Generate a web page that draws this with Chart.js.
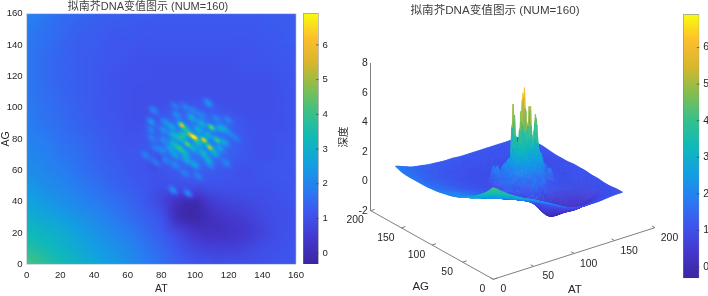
<!DOCTYPE html>
<html>
<head>
<meta charset="utf-8">
<script src="https://cdn.jsdelivr.net/npm/chart.js@4"></script>
<style>
  html, body { margin: 0; padding: 0; background: #fff; overflow: hidden; }
  canvas { position: absolute; top: 0; filter: blur(0.4px); }
</style>
</head>
<body>
<canvas id="heat" width="324" height="296" style="left:0"></canvas>
<canvas id="heatBar" width="36" height="296" style="left:303px"></canvas>
<canvas id="surface" width="355" height="296" style="left:335px"></canvas>
<canvas id="surfaceBar" width="25" height="296" style="left:683px"></canvas>
<script>
const titleText = '拟南芥DNA变值图示 (NUM=160)';
const fontFamily = '"Liberation Sans","Noto Sans CJK SC",sans-serif';
const inkColor = '#262626';

const gridStep = 10; // spacing of depthRows, first row is AG=0
const depthRows = [
  [4.2, 3.8, 3.4, 3.05, 2.75, 2.5, 2.2, 1.9, 1.6, 1.3, 1.1, 1.0, 1.0, 1.0, 1.05, 1.1, 1.1],
  [3.7, 3.4, 3.1, 2.85, 2.55, 2.3, 2.05, 1.75, 1.45, 1.1, 0.8, 0.65, 0.65, 0.75, 0.95, 1.05, 1.1],
  [3.3, 3.1, 2.9, 2.6, 2.35, 2.1, 1.85, 1.55, 1.25, 0.8, 0.35, 0.25, 0.3, 0.45, 0.75, 1.0, 1.05],
  [2.95, 2.75, 2.55, 2.3, 2.1, 1.85, 1.6, 1.35, 1.05, 0.1, -0.1, 0.2, 0.45, 0.6, 0.85, 1.0, 1.05],
  [2.65, 2.45, 2.25, 2.05, 1.85, 1.65, 1.45, 1.2, 0.8, 0.2, 0.0, 0.55, 0.75, 0.85, 0.95, 1.05, 1.1],
  [2.4, 2.2, 2.05, 1.85, 1.65, 1.45, 1.3, 1.15, 1.0, 1.0, 1.0, 1.05, 1.05, 1.05, 1.05, 1.1, 1.1],
  [2.2, 2.05, 1.9, 1.7, 1.5, 1.35, 1.2, 1.1, 1.1, 1.25, 1.3, 1.25, 1.15, 1.05, 1.1, 1.15, 1.15],
  [2.05, 1.95, 1.75, 1.6, 1.4, 1.25, 1.15, 1.15, 1.3, 1.55, 1.65, 1.6, 1.35, 1.15, 1.05, 1.1, 1.15],
  [1.95, 1.85, 1.65, 1.5, 1.35, 1.2, 1.1, 1.15, 1.35, 1.65, 1.75, 1.7, 1.4, 1.15, 1.05, 1.1, 1.15],
  [1.85, 1.7, 1.55, 1.4, 1.25, 1.15, 1.05, 1.05, 1.25, 1.5, 1.6, 1.5, 1.3, 1.1, 1.05, 1.05, 1.1],
  [1.8, 1.65, 1.5, 1.35, 1.2, 1.1, 1.05, 1.0, 1.05, 1.15, 1.2, 1.15, 1.05, 1.0, 1.0, 1.05, 1.1],
  [1.75, 1.6, 1.45, 1.3, 1.2, 1.1, 1.05, 1.0, 1.0, 1.0, 1.0, 1.0, 1.0, 1.0, 1.0, 1.05, 1.1],
  [1.75, 1.55, 1.4, 1.3, 1.2, 1.1, 1.05, 1.05, 1.0, 1.0, 1.0, 1.0, 1.0, 1.05, 1.05, 1.1, 1.15],
  [1.75, 1.55, 1.4, 1.3, 1.2, 1.15, 1.1, 1.05, 1.05, 1.05, 1.05, 1.05, 1.05, 1.1, 1.1, 1.15, 1.2],
  [1.75, 1.6, 1.45, 1.3, 1.25, 1.15, 1.15, 1.1, 1.1, 1.1, 1.1, 1.1, 1.1, 1.1, 1.15, 1.2, 1.2],
  [1.8, 1.65, 1.5, 1.35, 1.3, 1.2, 1.2, 1.15, 1.15, 1.15, 1.15, 1.15, 1.15, 1.15, 1.2, 1.2, 1.25],
  [1.95, 1.75, 1.55, 1.45, 1.35, 1.3, 1.25, 1.25, 1.2, 1.2, 1.2, 1.2, 1.2, 1.2, 1.2, 1.25, 1.25],
];

// spots of the central cluster
const peakAT = [92.1, 100, 97.4, 105.4, 108.9, 109.9, 95.5, 113.3, 90.7,
  95, 102, 108, 87.1, 91.1, 102, 99, 94.1, 105, 111.9, 87.1, 117.8, 98, 104, 86.2, 93.1, 85.2, 114.9, 114.9, 108, 100, 95, 88.1, 117.8,
  108, 75.3, 73.9, 73.7, 74.3, 76.3, 70.3, 76.3, 82.2, 88.1, 94.1, 102, 108.9, 118.8, 124.8, 119.8, 120.8, 88.1, 94.1, 99, 104, 89.1, 82.2, 81.2, 81.2, 80.2, 112.9,
  87, 96, 79, 75, 103];
const peakAG = [89, 81, 82.6, 79.4, 74.7, 87.5, 76.8, 79.4, 74.1,
  85.8, 85.8, 82.6, 82.6, 80.5, 77.3, 74.1, 70.9, 70.9, 70.9, 77.3, 77.9, 93.9, 90, 87.9, 82.6, 74.1, 86.8, 74.1, 66.6, 63.4, 66.6, 69.8, 86.8,
  103.2, 98.5, 91.1, 85.8, 80.5, 74.1, 69.8, 65.1, 66.6, 63.4, 58.1, 56, 63.4, 64.5, 80.5, 92.2, 83.6, 101.3, 100.7, 98.5, 95.4, 95.4, 91.1, 85.8, 79.4, 73, 93.2,
  47, 45, 68, 62, 50];
const peakDepth = [6.0, 6.6, 5.0, 6.4, 5.6, 5.0, 4.5, 4.3, 3.8,
  3.2, 3.0, 3.0, 3.0, 3.3, 3.3, 3.0, 3.0, 3.2, 2.9, 2.9, 2.7, 2.8, 2.9, 2.6, 3.4, 2.6, 2.7, 2.6, 2.7, 2.7, 2.8, 2.6, 2.4,
  2.4, 2.1, 2.3, 1.9, 1.9, 1.8, 1.9, 1.8, 2.0, 2.1, 1.9, 1.9, 2.0, 2.0, 1.8, 2.0, 1.9, 1.8, 1.9, 1.9, 2.0, 2.2, 2.2, 2.2, 2.1, 2.1, 2.0,
  2.2, 2.1, 0.9, 0.9, 0.95];

const heatTicks = [0, 20, 40, 60, 80, 100, 120, 140, 160];
const depthTicks = [-2, 0, 2, 4, 6, 8];
const surfaceTicks = [0, 50, 100, 150, 200];
const colorTicks = [0, 1, 2, 3, 4, 5, 6];
const colorMin = -0.31;
const colorMax = 6.91;

const parulaStops = [
  [58, 38, 160], [68, 55, 205], [62, 85, 238], [40, 125, 242], [18, 160, 225], [15, 185, 185],
  [55, 192, 140], [130, 190, 80], [215, 182, 45], [252, 190, 45], [249, 251, 14],
];

function parulaAt(t) {
  const p = Math.min(Math.max(t, 0), 1) * (parulaStops.length - 1);
  const i = Math.min(Math.floor(p), parulaStops.length - 2);
  const f = p - i;
  return parulaStops[i].map((c, k) => Math.round(c + (parulaStops[i + 1][k] - c) * f));
}
const parulaLut = [];
for (let i = 0; i < 256; i++) parulaLut.push(parulaAt(i / 255));
const parulaCss = parulaLut.map((c) => `rgb(${c[0]},${c[1]},${c[2]})`);
function lutIndex(z) {
  const i = Math.round(((z - colorMin) / (colorMax - colorMin)) * 255);
  return Math.min(Math.max(i, 0), 255);
}

// shading between the read values, like MATLAB's interp shading
function cubic(a, b, c, d, t) {
  return b + 0.5 * t * (c - a + t * (2 * a - 5 * b + 4 * c - d + t * (3 * (b - c) + d - a)));
}
function baseDepth(at, ag) {
  const n = depthRows.length - 1;
  const u = Math.min(at / gridStep, n - 1e-6);
  const v = Math.min(ag / gridStep, n - 1e-6);
  const i = Math.floor(u);
  const j = Math.floor(v);
  const clamp = (k) => Math.min(Math.max(k, 0), n);
  const row = (r) => cubic(depthRows[clamp(r)][clamp(i - 1)], depthRows[clamp(r)][i], depthRows[clamp(r)][i + 1], depthRows[clamp(r)][clamp(i + 2)], u - i);
  return cubic(row(j - 1), row(j), row(j + 1), row(j + 2), v - j);
}
const fieldSize = 161;
const field = new Float32Array(fieldSize * fieldSize);
const peakHeights = peakDepth.map((z, k) => z - baseDepth(peakAT[k], peakAG[k]));
for (let ag = 0; ag < fieldSize; ag++) {
  for (let at = 0; at < fieldSize; at++) {
    let z = baseDepth(at, ag);
    for (let k = 0; k < peakAT.length; k++) {
      const dx = at - peakAT[k];
      const dy = ag - peakAG[k];
      if (dx * dx + dy * dy > 64) continue;
      // spots lean along the AT up, AG down diagonal
      const along = (dx - dy) * 0.7071;
      const across = (dx + dy) * 0.7071;
      const hot = peakDepth[k] > 4;
      const sa = hot ? 1.7 : 2.2;
      const sc = hot ? 1.0 : 1.35;
      z += peakHeights[k] * Math.exp(-(along * along) / (2 * sa * sa) - (across * across) / (2 * sc * sc));
    }
    field[ag * fieldSize + at] = z;
  }
}

function fixedBox(scale, prop, size) {
  scale[prop] = size;
  scale.paddingLeft = scale.paddingRight = scale.paddingTop = scale.paddingBottom = 0;
}

Chart.defaults.animation = false;
Chart.defaults.responsive = false;
Chart.defaults.devicePixelRatio = 1;
Chart.defaults.font.family = fontFamily;
Chart.defaults.color = inkColor;
Chart.defaults.plugins.legend.display = false;
Chart.defaults.plugins.tooltip.enabled = false;

const heatPlugin = {
  id: 'heatField',
  beforeDatasetsDraw(chart) {
    const { ctx, scales: { x, y } } = chart;
    const off = document.createElement('canvas');
    off.width = off.height = fieldSize;
    const offCtx = off.getContext('2d');
    const img = offCtx.createImageData(fieldSize, fieldSize);
    for (let ag = 0; ag < fieldSize; ag++) {
      for (let at = 0; at < fieldSize; at++) {
        const c = parulaLut[lutIndex(field[ag * fieldSize + at])];
        const o = ((fieldSize - 1 - ag) * fieldSize + at) * 4;
        img.data[o] = c[0];
        img.data[o + 1] = c[1];
        img.data[o + 2] = c[2];
        img.data[o + 3] = 255;
      }
    }
    offCtx.putImageData(img, 0, 0);
    const left = x.getPixelForValue(0);
    const top = y.getPixelForValue(160);
    const w = x.getPixelForValue(160) - left;
    const h = y.getPixelForValue(0) - top;
    ctx.save();
    ctx.imageSmoothingEnabled = true;
    ctx.drawImage(off, left, top, w, h);
    ctx.strokeStyle = 'rgba(175,190,205,0.8)';
    ctx.lineWidth = 0.8;
    ctx.strokeRect(left, top, w, h);
    ctx.restore();
  },
};

new Chart(document.getElementById('heat'), {
  type: 'scatter',
  data: { datasets: [{ data: peakAT.map((v, k) => ({ x: v, y: peakAG[k] })), pointRadius: 0 }] },
  plugins: [heatPlugin],
  options: {
    layout: { padding: { right: 28 } },
    plugins: {
      title: { display: true, text: titleText, color: '#404040', font: { size: 11, weight: 'normal' }, padding: { top: 0, bottom: 0.5 } },
    },
    scales: {
      x: {
        min: 0,
        max: 160,
        grid: { display: false, drawTicks: false },
        border: { display: false },
        afterBuildTicks: (s) => { s.ticks = heatTicks.map((v) => ({ value: v })); },
        afterFit: (s) => fixedBox(s, 'height', 31.7),
        ticks: { font: { size: 9.6 }, maxRotation: 0, padding: 5, autoSkip: false },
        title: { display: true, text: 'AT', font: { size: 10.5 }, padding: { top: 0, bottom: 1 } },
      },
      y: {
        min: 0,
        max: 160,
        grid: { display: false, drawTicks: false },
        border: { display: false },
        afterBuildTicks: (s) => { s.ticks = heatTicks.map((v) => ({ value: v })); },
        afterFit: (s) => fixedBox(s, 'width', 26.7),
        ticks: { font: { size: 9.6 }, padding: 4, autoSkip: false },
        title: { display: true, text: 'AG', font: { size: 10.5 }, padding: 0 },
      },
    },
  },
});

const barTicksPlugin = {
  id: 'barTicks',
  afterDatasetsDraw(chart) {
    const { ctx, chartArea, scales: { y } } = chart;
    ctx.save();
    ctx.strokeStyle = '#404040';
    ctx.lineWidth = 0.7;
    ctx.beginPath();
    colorTicks.forEach((v) => {
      const py = y.getPixelForValue(v);
      ctx.moveTo(chartArea.right - 2.5, py);
      ctx.lineTo(chartArea.right, py);
    });
    ctx.stroke();
    ctx.restore();
  },
};

function colorBar(id, padding, axisWidth, tickSize) {
  new Chart(document.getElementById(id), {
    type: 'bar',
    plugins: [barTicksPlugin],
    data: {
      labels: [''],
      datasets: [{
        data: [[colorMin, colorMax]],
        barPercentage: 1,
        categoryPercentage: 1,
        borderColor: '#808080',
        borderWidth: 0.8,
        backgroundColor(ctx) {
          const { chart } = ctx;
          if (!chart.chartArea) return parulaCss[0];
          const y = chart.scales.y;
          const g = chart.ctx.createLinearGradient(0, y.getPixelForValue(colorMin), 0, y.getPixelForValue(colorMax));
          parulaStops.forEach((c, k) => g.addColorStop(k / (parulaStops.length - 1), `rgb(${c[0]},${c[1]},${c[2]})`));
          return g;
        },
      }],
    },
    options: {
      layout: { padding },
      scales: {
        x: { display: false },
        y: {
          position: 'right',
          min: colorMin,
          max: colorMax,
          grid: { display: false, drawTicks: false },
          border: { display: false },
          afterBuildTicks: (s) => { s.ticks = colorTicks.map((v) => ({ value: v })); },
          afterFit: (s) => fixedBox(s, 'width', axisWidth),
          ticks: { font: { size: tickSize }, padding: 4, autoSkip: false },
        },
      },
    },
  });
}
colorBar('heatBar', { top: 13.3, bottom: 32 }, 20.4, 9.6);
colorBar('surfaceBar', { top: 14.3, bottom: 17.7 }, 8.7, 10.4);

// projection of the MATLAB view: horizontal in the hidden x scale, vertical as equivalent depth on the y scale
const viewAT = [0.8085, 0.01752];
const viewAG = [-0.613, 0.02327];
const viewBack = 122.6;
function project(chart, at, ag, z) {
  const { x, y } = chart.scales;
  return [
    x.getPixelForValue(viewBack + at * viewAT[0] + ag * viewAG[0]),
    y.getPixelForValue(z + at * viewAT[1] + (ag - 200) * viewAG[1]),
  ];
}

const surfacePlugin = {
  id: 'surface3d',
  beforeDatasetsDraw(chart) {
    const { ctx } = chart;
    ctx.save();
    ctx.lineWidth = 0.5;
    ctx.lineJoin = 'round';
    // back to front, the viewer stands at the AT=0 AG=0 corner
    for (let ag = fieldSize - 2; ag >= 0; ag--) {
      for (let at = fieldSize - 2; at >= 0; at--) {
        const a = field[ag * fieldSize + at];
        const b = field[ag * fieldSize + at + 1];
        const c = field[(ag + 1) * fieldSize + at + 1];
        const d = field[(ag + 1) * fieldSize + at];
        const p = [project(chart, at, ag, a), project(chart, at + 1, ag, b), project(chart, at + 1, ag + 1, c), project(chart, at, ag + 1, d)];
        const color = parulaCss[lutIndex((a + b + c + d) / 4)];
        ctx.fillStyle = color;
        ctx.strokeStyle = color;
        ctx.beginPath();
        ctx.moveTo(p[0][0], p[0][1]);
        ctx.lineTo(p[1][0], p[1][1]);
        ctx.lineTo(p[2][0], p[2][1]);
        ctx.lineTo(p[3][0], p[3][1]);
        ctx.closePath();
        ctx.fill();
        ctx.stroke();
      }
    }
    ctx.restore();
  },
  afterDraw(chart) {
    const { ctx } = chart;
    const floor = depthTicks[0];
    const corner = project(chart, 0, 0, floor);
    const endAG = project(chart, 0, 200, floor);
    const endAT = project(chart, 200, 0, floor);
    ctx.save();
    ctx.strokeStyle = '#7f7f7f';
    ctx.lineWidth = 1;
    ctx.beginPath();
    ctx.moveTo(endAG[0], endAG[1]);
    ctx.lineTo(corner[0], corner[1]);
    ctx.lineTo(endAT[0], endAT[1]);
    surfaceTicks.forEach((v) => {
      let p = project(chart, 0, v, floor);
      let q = project(chart, 5, v, floor);
      ctx.moveTo(p[0], p[1]);
      ctx.lineTo(q[0], q[1]);
      p = project(chart, v, 0, floor);
      q = project(chart, v, 5, floor);
      ctx.moveTo(p[0], p[1]);
      ctx.lineTo(q[0], q[1]);
    });
    ctx.stroke();
    ctx.fillStyle = inkColor;
    ctx.font = `10.4px ${fontFamily}`;
    ctx.textAlign = 'center';
    ctx.textBaseline = 'middle';
    surfaceTicks.forEach((v, k) => {
      let p = project(chart, 0, v, floor);
      ctx.fillText(String(v), p[0] - 15.5 + (k === 0 ? 4.5 : 0), p[1] + 9.8);
      p = project(chart, v, 0, floor);
      ctx.fillText(String(v), p[0] + 14.5 - (k === 0 ? 4.5 : 0), p[1] + 10.2);
    });
    ctx.font = `11.5px ${fontFamily}`;
    const labelAG = project(chart, 0, 100, floor);
    ctx.fillText('AG', labelAG[0] - 11.3, labelAG[1] + 41.7);
    const labelAT = project(chart, 100, 0, floor);
    ctx.fillText('AT', labelAT[0] + 0.8, labelAT[1] + 36.5);
    ctx.restore();
  },
};

new Chart(document.getElementById('surface'), {
  type: 'scatter',
  data: { datasets: [{ data: [], pointRadius: 0 }] },
  plugins: [surfacePlugin],
  options: {
    layout: { padding: { right: 35, bottom: 85.3 } },
    plugins: {
      title: { display: true, text: titleText, color: '#404040', font: { size: 11.6, weight: 'normal' }, padding: { top: 4, bottom: 45.4 } },
    },
    scales: {
      x: { display: false, min: 0, max: 284.3 },
      y: {
        min: depthTicks[0],
        max: depthTicks[depthTicks.length - 1],
        grid: { drawOnChartArea: false, drawTicks: false },
        border: { display: true, color: '#7f7f7f' },
        afterBuildTicks: (s) => { s.ticks = depthTicks.map((v) => ({ value: v })); },
        afterFit: (s) => fixedBox(s, 'width', 35.7),
        ticks: { font: { size: 10.4 }, padding: 3, autoSkip: false },
        title: { display: true, text: '深度', font: { size: 10.5 }, padding: { top: 3, bottom: 0 } },
      },
    },
  },
});
</script>
</body>
</html>
